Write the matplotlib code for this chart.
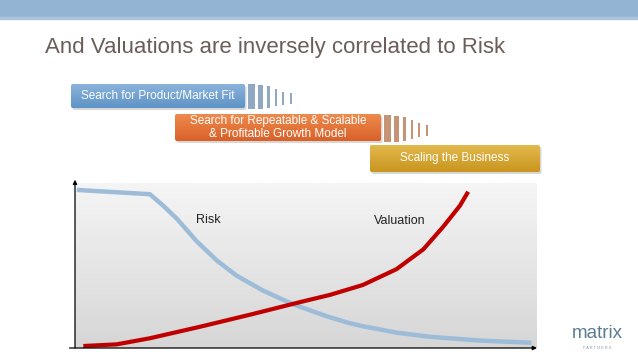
import numpy as np
import matplotlib
matplotlib.use("Agg")
import matplotlib.pyplot as plt
from matplotlib.patches import FancyBboxPatch, Rectangle

plt.rcParams['font.family'] = ['Liberation Sans', 'DejaVu Sans']

# --- data ---
title = "And Valuations are inversely correlated to Risk"
risk_x = [0.4, 16.2, 19.0, 22.0, 26.3, 30.7, 35.0, 40.7, 47.2, 54.5, 59.5, 62.3, 69.6, 76.8, 87.7, 98.8]
risk_y = [95.8, 93.2, 86.5, 78.5, 64.8, 53.0, 43.8, 34.8, 26.5, 19.2, 15.0, 13.2, 9.3, 6.8, 4.5, 3.2]
val_x = [1.8, 9.0, 16.2, 27.1, 37.9, 48.7, 55.2, 62.3, 69.6, 75.4, 79.7, 83.3, 85.1]
val_y = [1.2, 2.2, 5.9, 12.9, 20.2, 27.8, 32.2, 38.2, 47.8, 59.8, 73.5, 86.2, 94.7]
stage_labels = ["Search for Product/Market Fit",
                "Search for Repeatable & Scalable\n& Profitable Growth Model",
                "Scaling the Business"]

W, H = 638, 359
fig = plt.figure(figsize=(W / 100, H / 100), dpi=100)
fig.patch.set_facecolor("white")

# overlay axes in pixel coordinates for decorations
deco = fig.add_axes([0, 0, 1, 1])
deco.set_xlim(0, W)
deco.set_ylim(H, 0)
deco.axis("off")

# top band
deco.add_patch(Rectangle((0, 0), W, 18, color="#93b5d3", zorder=1))
deco.add_patch(Rectangle((0, 17), W, 2, color="#a9c4dc", zorder=1))

deco.text(45, 47, title, fontsize=16, color="#6b5e59", va="center", ha="left")


def grad_box(ax, x0, y0, x1, y1, c_top, c_bot, label, fs=8.5):
    # soft shadow
    sh = FancyBboxPatch((x0 + 1.5, y0 + 2), x1 - x0, y1 - y0,
                        boxstyle="round,pad=0,rounding_size=2",
                        fc="#b0b0b0", ec="none", alpha=0.5, zorder=2)
    ax.add_patch(sh)
    box = FancyBboxPatch((x0, y0), x1 - x0, y1 - y0,
                         boxstyle="round,pad=0,rounding_size=2",
                         fc="none", ec="none", zorder=3)
    ax.add_patch(box)
    top = np.array(matplotlib.colors.to_rgb(c_top))
    bot = np.array(matplotlib.colors.to_rgb(c_bot))
    t = np.linspace(0, 1, 64)[:, None]
    img = (top * (1 - t) + bot * t)[:, None, :].repeat(2, axis=1)
    im = ax.imshow(img, extent=[x0, x1, y1, y0], aspect="auto", zorder=3,
                   interpolation="bilinear")
    im.set_clip_path(box)
    ax.text((x0 + x1) / 2, (y0 + y1) / 2, label,
            color="white", fontsize=fs, ha="center", va="center",
            linespacing=1.05, zorder=4)


def stripes(ax, x_end, y0, y1, color):
    # fading bars trailing a stage box: (offset, width, shrink fraction)
    spec = [(3, 7, 0.0), (13, 5, 0.05), (22, 3, 0.12), (30, 2, 0.25),
            (37, 1.6, 0.4), (45, 1.6, 0.47)]
    h = y1 - y0
    for off, w, s in spec:
        ax.add_patch(Rectangle((x_end + off, y0 + s * h * 0.8), w, h * (1 - 1.6 * s * 0.8 + 0.05),
                               color=color, alpha=0.8, zorder=3, lw=0))


stripes(deco, 245, 84, 108, "#7592b2")
grad_box(deco, 71, 84, 245, 108, "#8ab3dc", "#5f93c6", stage_labels[0])
stripes(deco, 381, 115, 141, "#b87a52")
grad_box(deco, 175, 114, 381, 141, "#ef8a4c", "#d8612a", stage_labels[1])
grad_box(deco, 370, 145, 540, 172, "#e2b94c", "#c9951f", stage_labels[2])

# matrix logo
deco.text(597, 333, "matrix", fontsize=13.5, color="#5b7c92", ha="center", va="center")
deco.text(597, 348, "P A R T N E R S", fontsize=2.8, color="#8a9aa6", ha="center", va="center")

# chart axes
ax = fig.add_axes([75 / W, (H - 348) / H, 462 / W, 165 / H])
ax.set_xlim(0, 100)
ax.set_ylim(0, 100)
g = np.linspace(0, 1, 128)[:, None]
top = np.array(matplotlib.colors.to_rgb("#f5f5f5"))
bot = np.array(matplotlib.colors.to_rgb("#d6d6d6"))
bg = (top * (1 - g) + bot * g)[:, None, :].repeat(2, axis=1)
ax.imshow(bg, extent=[0, 100, 0, 100], aspect="auto", zorder=0, interpolation="bilinear")
for s in ax.spines.values():
    s.set_visible(False)
ax.set_xticks([])
ax.set_yticks([])
ax.patch.set_alpha(0)

ax.plot(risk_x, risk_y, color="#9dbcd8", lw=3.2, solid_capstyle="butt",
        solid_joinstyle="round", zorder=2)
ax.plot(val_x, val_y, color="#c00000", lw=3.0, solid_capstyle="butt",
        solid_joinstyle="round", zorder=3)

ax.text(28.8, 77.5, "Risk", fontsize=9, color="#222222", ha="center", va="center")
ax.text(70.2, 77, "Valuation", fontsize=9, color="#222222", ha="center", va="center")

# axis arrows
ax.annotate("", xy=(0, 1.02), xytext=(0, 0), xycoords="axes fraction",
            arrowprops=dict(arrowstyle="-|>", color="black", lw=0.9,
                            mutation_scale=6, shrinkA=0, shrinkB=0),
            annotation_clip=False)
ax.annotate("", xy=(1.0, 0), xytext=(-0.012, 0), xycoords="axes fraction",
            arrowprops=dict(arrowstyle="-|>", color="black", lw=0.9,
                            mutation_scale=6, shrinkA=0, shrinkB=0),
            annotation_clip=False)

fig.savefig("out.png", dpi=100)
